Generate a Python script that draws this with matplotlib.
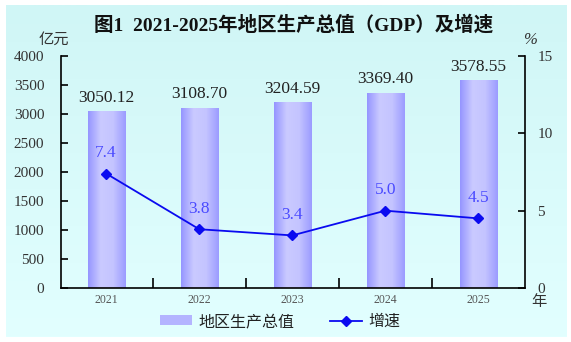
import numpy as np
import matplotlib
matplotlib.use('Agg')
import matplotlib.pyplot as plt
from matplotlib.patches import Patch
from matplotlib.lines import Line2D
from matplotlib.colors import LinearSegmentedColormap

plt.rcParams['font.family'] = ['Liberation Serif', 'Noto Sans CJK SC', 'DejaVu Sans']

# data
years = ['2021', '2022', '2023', '2024', '2025']
gdp = [3050.12, 3108.70, 3204.59, 3369.40, 3578.55]
growth = [7.4, 3.8, 3.4, 5.0, 4.5]
gdp_ticks = [0, 500, 1000, 1500, 2000, 2500, 3000, 3500, 4000]
growth_ticks = [0, 5, 10, 15]

W, H = 571, 342
fig = plt.figure(figsize=(W / 100, H / 100), dpi=100)
fig.patch.set_facecolor('white')

# light cyan panel behind everything
bg = fig.add_axes([6 / W, 5 / H, 561 / W, 332 / H], zorder=-5)
bg_cmap = LinearSegmentedColormap.from_list('bg', ['#D0F6F6', '#E2FFFF'])
bg.imshow(np.linspace(0, 1, 256).reshape(-1, 1), cmap=bg_cmap, aspect='auto',
          extent=[0, 1, 0, 1], origin='upper')
bg.axis('off')

ax = fig.add_axes([61 / W, 1 - 288 / H, (525 - 61) / W, (288 - 56) / H])
ax.set_facecolor('none')
x = np.arange(len(years))

# bars with a horizontal lavender gradient
bar_cmap = LinearSegmentedColormap.from_list('bar', ['#9696FF', '#CACAFF', '#C4C4FF', '#9C9CFF'])
bars = ax.bar(x, gdp, width=0.4, color='#B8B8FF', zorder=2)
for b in bars:
    x0, w, h = b.get_x(), b.get_width(), b.get_height()
    im = ax.imshow(np.linspace(0, 1, 64).reshape(1, -1), cmap=bar_cmap, aspect='auto',
                   extent=[x0, x0 + w, 0, h], zorder=2.1)
    im.set_clip_path(b)
for xi, v in zip(x, gdp):
    ax.annotate(f'{v:.2f}', (xi, v), xytext=(0, 4), textcoords='offset points',
                ha='center', va='bottom', fontsize=12.5, color='#222222')

ax.set_xlim(-0.485, 4.5)
ax.set_ylim(0, 4000)
ax.set_yticks(gdp_ticks)
ax.set_xticks(x)
ax.set_xticklabels(years, fontsize=8.5, color='#555555')
ax.set_xticks(x[:-1] + 0.5, minor=True)
ax.tick_params(axis='x', which='major', length=0, pad=4)
ax.tick_params(axis='x', which='minor', direction='in', length=7, width=1.2)
ax.tick_params(axis='y', direction='in', length=5, width=1.2, pad=12,
               labelsize=11, labelcolor='#333333')
ax.spines['top'].set_visible(False)
ax.spines['right'].set_visible(False)
for s in ['left', 'bottom']:
    ax.spines[s].set_linewidth(1.2)

# growth line on the right axis
ax2 = ax.twinx()
ax2.set_ylim(0, 15)
ax2.set_yticks(growth_ticks)
ax2.plot(x, growth, color='#0A0AF0', lw=1.3, marker='D', markersize=5, zorder=5)
for xi, v in zip(x, growth):
    ax2.annotate(f'{v:.1f}', (xi, v), xytext=(0, 9), textcoords='offset points',
                 ha='center', va='bottom', fontsize=12.5, color='#4A4AFF')
ax2.tick_params(axis='y', direction='in', length=5, width=1.2, pad=9,
                labelsize=11, labelcolor='#333333')
ax2.spines['top'].set_visible(False)
ax2.spines['left'].set_visible(False)
ax2.spines['bottom'].set_visible(False)
ax2.spines['right'].set_linewidth(1.2)

# units and title
fig.text(54 / W, 1 - 40 / H, '亿元', ha='center', va='center', fontsize=11, color='#333333')
fig.text(530 / W, 1 - 40 / H, '%', ha='center', va='center', fontsize=12, color='#333333',
         style='italic')
fig.text(539 / W, 1 - 302 / H, '年', ha='center', va='center', fontsize=11, color='#333333')
fig.text(294 / W, 1 - 25 / H, '图1  2021-2025年地区生产总值（GDP）及增速',
         ha='center', va='center', fontsize=14, fontweight='bold', color='#111111')

handles = [Patch(facecolor='#B4B4FF', edgecolor='none'),
           Line2D([0], [0], color='#0A0AF0', lw=1.3, marker='D', markersize=5)]
fig.legend(handles, ['地区生产总值', '增速'], loc='center', ncol=2, frameon=False,
           bbox_to_anchor=(280 / W, 1 - 322 / H), fontsize=11.5, handlelength=2.0,
           handleheight=0.6, handletextpad=0.4, columnspacing=2.2,
           labelcolor='#222222')

fig.savefig('out.png', dpi=100, facecolor='white')
